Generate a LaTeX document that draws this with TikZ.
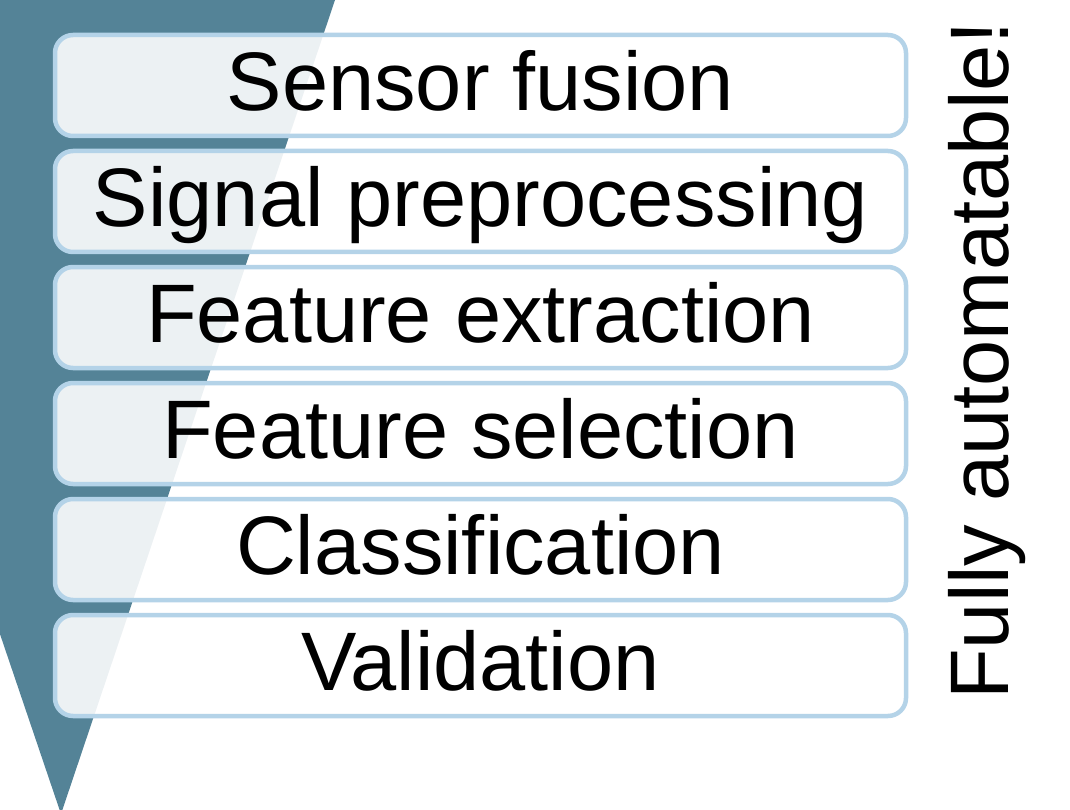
\documentclass[tikz,border=0pt]{standalone}
\usepackage{fontspec}
\setmainfont{Liberation Sans}
\definecolor{funnel}{RGB}{84,131,151}
\definecolor{boxline}{RGB}{180,211,232}
\tikzset{
  stage/.style={draw=boxline, line width=4.5pt, rounded corners=18pt,
    fill=white, fill opacity=0.89, text opacity=1,
    minimum width=851pt, minimum height=101pt, inner sep=0pt,
    text height=66pt, text depth=16pt,
    font=\fontsize{83}{100}\selectfont},
  sidelabel/.style={rotate=90, anchor=base west, inner sep=0pt,
    font=\fontsize{83}{100}\selectfont}
}
\begin{document}
\begin{tikzpicture}[x=1pt,y=-1pt]
\useasboundingbox (0,0) rectangle (1070,810);
\begin{scope}
\clip (0,0) rectangle (1070,810);
\fill[funnel] (-215,0) -- (335,0) -- (61,814) -- cycle;
\end{scope}
\node[stage] (s1) at (480.5,85.5) {Sensor fusion};
\node[stage] (s2) at (480.5,201.5) {Signal preprocessing};
\node[stage] (s3) at (480.5,317.5) {Feature extraction};
\node[stage] (s4) at (480.5,433.5) {Feature selection};
\node[stage] (s5) at (480.5,549.5) {Classification};
\node[stage] (s6) at (480.5,665.5) {Validation};
\node[sidelabel] (auto) at (1008,700) {Fully automatable!};
\end{tikzpicture}
\end{document}
